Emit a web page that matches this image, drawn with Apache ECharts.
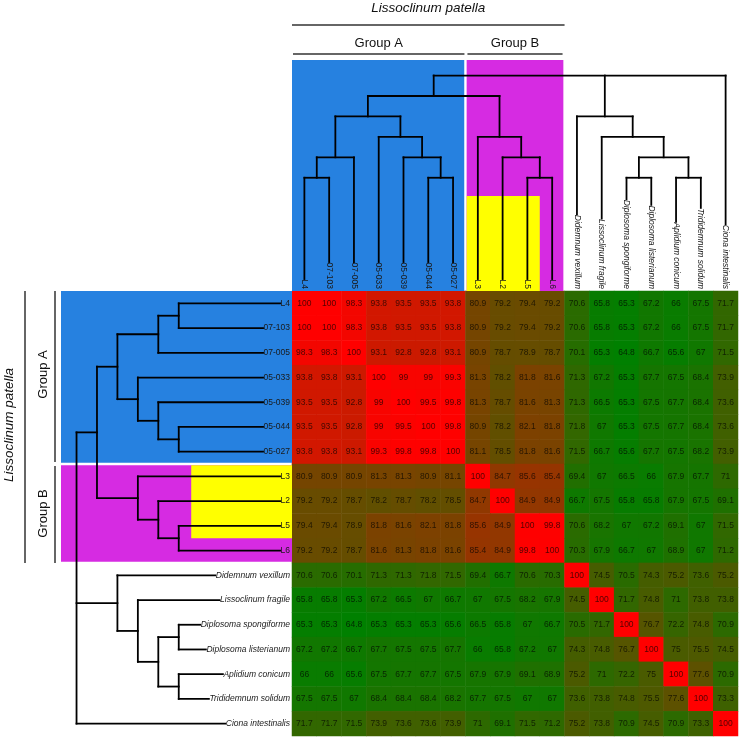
<!DOCTYPE html>
<html><head><meta charset="utf-8">
<script src="https://cdn.jsdelivr.net/npm/echarts@6/dist/echarts.min.js"></script>
<style>html,body{margin:0;padding:0;background:#fff}#c{width:741px;height:740px}</style>
</head><body><div id="c"></div>
<script>
// ---------- DATA ----------
const taxa = ['L4','07-103','07-005','05-033','05-039','05-044','05-027','L3','L2','L5','L6',
  'Didemnum vexillum','Lissoclinum fragile','Diplosoma spongiforme','Diplosoma listerianum',
  'Aplidium conicum','Trididemnum solidum','Ciona intestinalis'];
const italicTaxa = ['Didemnum vexillum','Lissoclinum fragile','Diplosoma spongiforme','Diplosoma listerianum',
  'Aplidium conicum','Trididemnum solidum','Ciona intestinalis'];
const groupA = ['L4','07-103','07-005','05-033','05-039','05-044','05-027'];
const groupB = ['L3','L2','L5','L6'];
const yellowSet = ['L3','L2','L5'];
const speciesTitle = 'Lissoclinum patella';
const groupATitle = 'Group A';
const groupBTitle = 'Group B';

const rowL4   = [100,100,98.3,93.8,93.5,93.5,93.8,80.9,79.2,79.4,79.2,70.6,65.8,65.3,67.2,66,67.5,71.7];
const row07103= [100,100,98.3,93.8,93.5,93.5,93.8,80.9,79.2,79.4,79.2,70.6,65.8,65.3,67.2,66,67.5,71.7];
const row07005= [98.3,98.3,100,93.1,92.8,92.8,93.1,80.9,78.7,78.9,78.7,70.1,65.3,64.8,66.7,65.6,67,71.5];
const row05033= [93.8,93.8,93.1,100,99,99,99.3,81.3,78.2,81.8,81.6,71.3,67.2,65.3,67.7,67.5,68.4,73.9];
const row05039= [93.5,93.5,92.8,99,100,99.5,99.8,81.3,78.7,81.6,81.3,71.3,66.5,65.3,67.5,67.7,68.4,73.6];
const row05044= [93.5,93.5,92.8,99,99.5,100,99.8,80.9,78.2,82.1,81.8,71.8,67,65.3,67.5,67.7,68.4,73.6];
const row05027= [93.8,93.8,93.1,99.3,99.8,99.8,100,81.1,78.5,81.8,81.6,71.5,66.7,65.6,67.7,67.5,68.2,73.9];
const rowL3   = [80.9,80.9,80.9,81.3,81.3,80.9,81.1,100,84.7,85.6,85.4,69.4,67,66.5,66,67.9,67.7,71];
const rowL2   = [79.2,79.2,78.7,78.2,78.7,78.2,78.5,84.7,100,84.9,84.9,66.7,67.5,65.8,65.8,67.9,67.5,69.1];
const rowL5   = [79.4,79.4,78.9,81.8,81.6,82.1,81.8,85.6,84.9,100,99.8,70.6,68.2,67,67.2,69.1,67,71.5];
const rowL6   = [79.2,79.2,78.7,81.6,81.3,81.8,81.6,85.4,84.9,99.8,100,70.3,67.9,66.7,67,68.9,67,71.2];
const rowDvex = [70.6,70.6,70.1,71.3,71.3,71.8,71.5,69.4,66.7,70.6,70.3,100,74.5,70.5,74.3,75.2,73.6,75.2];
const rowLfra = [65.8,65.8,65.3,67.2,66.5,67,66.7,67,67.5,68.2,67.9,74.5,100,71.7,74.8,71,73.8,73.8];
const rowDspo = [65.3,65.3,64.8,65.3,65.3,65.3,65.6,66.5,65.8,67,66.7,70.5,71.7,100,76.7,72.2,74.8,70.9];
const rowDlis = [67.2,67.2,66.7,67.7,67.5,67.5,67.7,66,65.8,67.2,67,74.3,74.8,76.7,100,75,75.5,74.5];
const rowAcon = [66,66,65.6,67.5,67.7,67.7,67.5,67.9,67.9,69.1,68.9,75.2,71,72.2,75,100,77.6,70.9];
const rowTsol = [67.5,67.5,67,68.4,68.4,68.4,68.2,67.7,67.5,67,67,73.6,73.8,74.8,75.5,77.6,100,73.3];
const rowCint = [71.7,71.7,71.5,73.9,73.6,73.6,73.9,71,69.1,71.5,71.2,75.2,73.8,70.9,74.5,70.9,73.3,100];
const identityRows = [rowL4,row07103,row07005,row05033,row05039,row05044,row05027,rowL3,rowL2,rowL5,rowL6,
  rowDvex,rowLfra,rowDspo,rowDlis,rowAcon,rowTsol,rowCint];

// dendrogram: [level, child, child, ...]; leaves are taxon names
const tree = [0,
  [1,
    [2, [4, [5, 'L4', '07-103'], '07-005'], [3, '05-033', [4, '05-039', [5, '05-044', '05-027']]]],
    [3, 'L3', [4, 'L2', [5, 'L5', 'L6']]]
  ],
  [2, 'Didemnum vexillum', [3, 'Lissoclinum fragile',
      [4, [5, 'Diplosoma spongiforme', 'Diplosoma listerianum'], [5, 'Aplidium conicum', 'Trididemnum solidum']]]],
  'Ciona intestinalis'
];

// ---------- LAYOUT / STYLE ----------
const HM = {left: 292, top: 291, width: 446, height: 445};
const DEND = 231; // dendrogram band depth
const LEVEL_MIN = -0.76, LEVEL_MAX = 10.54;
const FONT = '"Liberation Sans", Arial, sans-serif';
const LABEL_SIZE = 8.5;
const COLORS = {blue: '#2681e0', magenta: '#d62be2', yellow: '#ffff00'};
const yellowStart = {top: 5.89, left: 5.61};

const measureCtx = document.createElement('canvas').getContext('2d');
function textWidth(name) {
  const it = italicTaxa.includes(name);
  measureCtx.font = (it ? 'italic ' : '') + LABEL_SIZE + 'px ' + FONT;
  return measureCtx.measureText(name).width;
}

function layoutTree(node) {
  if (typeof node === 'string') return {leaf: true, name: node, pos: taxa.indexOf(node)};
  const level = node[0];
  const ch = node.slice(1).map(layoutTree);
  const ps = ch.map(c => c.pos);
  return {leaf: false, level, children: ch, min: Math.min(...ps), max: Math.max(...ps),
          pos: (Math.min(...ps) + Math.max(...ps)) / 2};
}
const layout = layoutTree(tree);

function span(names) {
  const idx = names.map(n => taxa.indexOf(n));
  return [Math.min(...idx) - 0.5, Math.max(...idx) + 0.5];
}
const regions = [
  {names: groupA, color: COLORS.blue, insetStart: 0, insetEnd: 1.2, start: {top: LEVEL_MIN, left: LEVEL_MIN}},
  {names: groupB, color: COLORS.magenta, insetStart: 1.2, insetEnd: 1.2, start: {top: LEVEL_MIN, left: LEVEL_MIN}},
  {names: yellowSet, color: COLORS.yellow, insetStart: 1.2, insetEnd: 0, start: yellowStart}
];

function dendroRender(orient) {
  return function (params, api) {
    const top = orient === 'top';
    const P = top ? (p, l) => api.coord([p, l]) : (p, l) => api.coord([l, p]);
    const pi = top ? 0 : 1, li = top ? 1 : 0;
    const els = [];
    const pt = (p, l) => { return top ? [p, l] : [l, p]; };
    regions.forEach(r => {
      const s = span(r.names);
      const a = P(s[0], r.start[orient]), b = P(s[1], LEVEL_MAX);
      const p0 = a[pi] + r.insetStart, p1 = b[pi] - r.insetEnd;
      const l0 = a[li], l1 = b[li];
      const shape = top ? {x: p0, y: l0, width: p1 - p0, height: l1 - l0}
                        : {x: l0, y: p0, width: l1 - l0, height: p1 - p0};
      els.push({type: 'rect', shape, style: {fill: r.color}, silent: true});
    });
    const edge = P(0, LEVEL_MAX)[li];
    const lineStyle = {stroke: '#000', lineWidth: 1.8, lineCap: 'square'};
    function line(a, b) {
      els.push({type: 'line', shape: {x1: a[0], y1: a[1], x2: b[0], y2: b[1]}, style: lineStyle, silent: true});
    }
    function walk(n) {
      if (n.leaf) return;
      line(P(n.min, n.level), P(n.max, n.level));
      n.children.forEach(c => {
        const st = P(c.pos, n.level);
        let en;
        if (c.leaf) {
          const w = textWidth(c.name);
          en = pt(P(c.pos, 0)[pi], edge - 2 - w - 0.5);
        } else {
          en = P(c.pos, c.level);
        }
        line(st, en);
        walk(c);
      });
    }
    walk(layout);
    taxa.forEach((name, i) => {
      const c = P(i, LEVEL_MAX);
      const it = italicTaxa.includes(name);
      const style = {text: name, fill: '#1a1a1a', fontSize: LABEL_SIZE, fontFamily: FONT,
        fontStyle: it ? 'italic' : 'normal', align: 'right', textAlign: 'right',
        verticalAlign: 'middle', textVerticalAlign: 'middle'};
      if (top) {
        els.push({type: 'text', x: c[0], y: edge - 2, rotation: -Math.PI / 2, style, silent: true});
      } else {
        els.push({type: 'text', x: edge - 2, y: c[1], style, silent: true});
      }
    });
    return {type: 'group', children: els};
  };
}

const heatData = [];
identityRows.forEach((row, r) => row.forEach((v, c) => heatData.push([c, r, v])));

// header brackets (computed from heatmap geometry)
const cw = HM.width / taxa.length, ch = HM.height / taxa.length;
const sA = span(groupA), sB = span(groupB), sAll = [sA[0], sB[1]];
const X = p => HM.left + (p + 0.5) * cw;
const Y = p => HM.top + (p + 0.5) * ch;
const hdrLine = {stroke: '#333', lineWidth: 1.5};
const txt = (t, size, italic) => ({text: t, fill: '#111', fontSize: size, fontFamily: FONT,
  fontStyle: italic ? 'italic' : 'normal', align: 'center', textAlign: 'center',
  verticalAlign: 'middle', textVerticalAlign: 'middle'});
const graphics = [
  {type: 'text', x: (X(sAll[0]) + X(sAll[1])) / 2, y: 8.5, style: txt(speciesTitle, 13.5, true)},
  {type: 'line', shape: {x1: X(sAll[0]), y1: 25, x2: X(sAll[1]), y2: 25}, style: hdrLine},
  {type: 'text', x: (X(sA[0]) + X(sA[1])) / 2, y: 43, style: txt(groupATitle, 13, false)},
  {type: 'line', shape: {x1: X(sA[0]) + 1, y1: 54, x2: X(sA[1]) - 1, y2: 54}, style: hdrLine},
  {type: 'text', x: (X(sB[0]) + X(sB[1])) / 2, y: 43, style: txt(groupBTitle, 13, false)},
  {type: 'line', shape: {x1: X(sB[0]) + 2, y1: 54, x2: X(sB[1]) - 2, y2: 54}, style: hdrLine},
  {type: 'text', x: 9.5, y: (Y(sAll[0]) + Y(sAll[1])) / 2 - 2, rotation: Math.PI / 2, style: txt(speciesTitle, 13.5, true)},
  {type: 'line', shape: {x1: 25, y1: Y(sAll[0]), x2: 25, y2: Y(sAll[1])}, style: hdrLine},
  {type: 'text', x: 43, y: (Y(sA[0]) + Y(sA[1])) / 2 - 3, rotation: Math.PI / 2, style: txt(groupATitle, 13, false)},
  {type: 'line', shape: {x1: 55, y1: Y(sA[0]), x2: 55, y2: Y(sA[1]) - 2}, style: hdrLine},
  {type: 'text', x: 43, y: (Y(sB[0]) + Y(sB[1])) / 2, rotation: Math.PI / 2, style: txt(groupBTitle, 13, false)},
  {type: 'line', shape: {x1: 55, y1: Y(sB[0]) + 2, x2: 55, y2: Y(sB[1])}, style: hdrLine}
];

const hidden = {show: false};
const chart = echarts.init(document.getElementById('c'), null, {renderer: 'canvas'});
chart.setOption({
  animation: false,
  backgroundColor: '#fff',
  grid: [
    {left: HM.left, top: HM.top, width: HM.width, height: HM.height},
    {left: HM.left, top: HM.top - DEND, width: HM.width, height: DEND},
    {left: HM.left - DEND, top: HM.top, width: DEND, height: HM.height}
  ],
  xAxis: [
    {type: 'category', gridIndex: 0, data: taxa, axisLabel: hidden, axisLine: hidden, axisTick: hidden, splitLine: hidden},
    {type: 'value', gridIndex: 1, min: -0.5, max: taxa.length - 0.5, axisLabel: hidden, axisLine: hidden, axisTick: hidden, splitLine: hidden},
    {type: 'value', gridIndex: 2, min: LEVEL_MIN, max: LEVEL_MAX, axisLabel: hidden, axisLine: hidden, axisTick: hidden, splitLine: hidden}
  ],
  yAxis: [
    {type: 'category', gridIndex: 0, data: taxa, inverse: true, axisLabel: hidden, axisLine: hidden, axisTick: hidden, splitLine: hidden},
    {type: 'value', gridIndex: 1, min: LEVEL_MIN, max: LEVEL_MAX, inverse: true, axisLabel: hidden, axisLine: hidden, axisTick: hidden, splitLine: hidden},
    {type: 'value', gridIndex: 2, min: -0.5, max: taxa.length - 0.5, inverse: true, axisLabel: hidden, axisLine: hidden, axisTick: hidden, splitLine: hidden}
  ],
  visualMap: {
    show: false, type: 'continuous', seriesIndex: 0, dimension: 2,
    min: 64.8, max: 100, inRange: {color: ['#008000', '#ff0000']}
  },
  graphic: {elements: graphics},
  series: [
    {
      type: 'heatmap', xAxisIndex: 0, yAxisIndex: 0, data: heatData,
      label: {show: true, fontSize: LABEL_SIZE, fontFamily: FONT, color: 'rgba(0,0,0,0.68)',
        formatter: p => String(p.value[2])},
      itemStyle: {borderWidth: 0},
      emphasis: {disabled: true}
    },
    {type: 'custom', xAxisIndex: 1, yAxisIndex: 1, data: [[0, 0]], renderItem: dendroRender('top'), silent: true, clip: false},
    {type: 'custom', xAxisIndex: 2, yAxisIndex: 2, data: [[0, 0]], renderItem: dendroRender('left'), silent: true, clip: false}
  ]
});
</script>
</body></html>
